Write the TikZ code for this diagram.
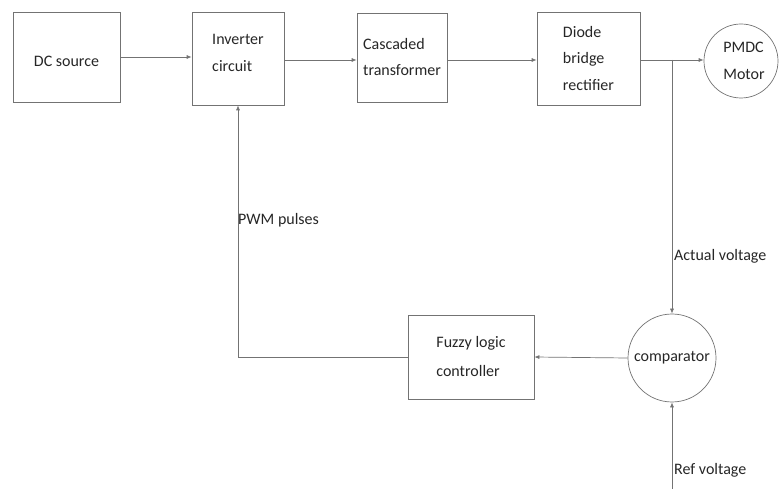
\documentclass[tikz,border=0pt]{standalone}
\usepackage{fontspec}
\setmainfont{Carlito}
\usetikzlibrary{arrows.meta}
\definecolor{ln}{gray}{0.45}
\definecolor{tx}{gray}{0.15}
\begin{document}
\begin{tikzpicture}[x=1pt,y=-1pt,
  blk/.style={draw=ln,line width=0.7pt,rectangle,inner sep=0pt,text=tx,align=left,
    font=\fontsize{16}{27}\selectfont},
  circ/.style={draw=ln,line width=0.7pt,circle,inner sep=0pt,text=tx,align=left,
    font=\fontsize{16}{27}\selectfont},
  lbl/.style={text=tx,inner sep=1pt,font=\fontsize{16}{19}\selectfont},
  conn/.style={draw=ln,line width=0.7pt,-{Latex[length=5pt,width=4pt]}},
  wire/.style={draw=ln,line width=0.7pt}]
\useasboundingbox (0,0) rectangle (780,489);
\node[blk,minimum width=107pt,minimum height=90pt] (dc) at (66.5,57) {\raisebox{-4pt}[\height][\depth]{DC source}};
\node[blk,minimum width=92pt,minimum height=93pt] (inv) at (238,58.5) {Inverter\\circuit\\[-15pt]\mbox{}};
\node[blk,minimum width=90pt,minimum height=89pt,font=\fontsize{16}{26}\selectfont] (cas) at (402,57.5) {Cascaded\\transformer};
\node[blk,minimum width=103pt,minimum height=93pt,font=\fontsize{16}{26.5}\selectfont] (dio) at (588.5,58.5) {Diode\\bridge\\rectifier};
\node[circ,minimum size=74pt] (mot) at (741,61) {\hspace*{6pt}PMDC\\\hspace*{6pt}Motor};
\node[circ,minimum size=88pt] (cmp) at (672,358) {comparator};
\node[blk,minimum width=126pt,minimum height=84pt,font=\fontsize{16}{29}\selectfont] (fuz) at (471,357) {Fuzzy logic\\controller};
\coordinate (tap) at (672,60);
\coordinate (corner) at (238,357);
\coordinate (ref) at (672,489);
\draw[conn] (dc.east |- 0,57) -- (inv.west |- 0,57);
\draw[conn] (inv.east |- 0,60) -- (cas.west |- 0,60);
\draw[conn] (cas.east |- 0,60) -- (dio.west |- 0,60);
\draw[conn] (dio.east |- 0,60) -- (mot.west |- 0,60);
\draw[conn] (tap) -- (cmp.north);
\draw[conn] (cmp.west) -- (fuz.east);
\draw[conn] (fuz.west) -- (corner) -- (inv.south);
\draw[conn] (ref) -- (cmp.south);
\node[lbl,anchor=west] (pwm) at (237,220) {PWM pulses};
\node[lbl,anchor=west] (act) at (673,256) {Actual voltage};
\node[lbl,anchor=west] (rv) at (673,470) {Ref voltage};
\end{tikzpicture}
\end{document}
